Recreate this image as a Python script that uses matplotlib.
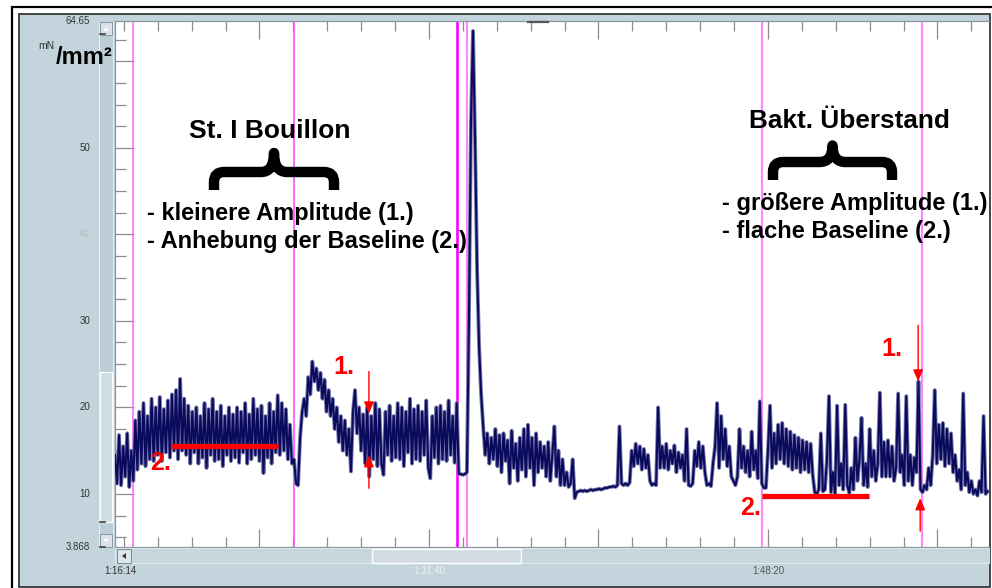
import numpy as np
import matplotlib
matplotlib.use("Agg")
import matplotlib.pyplot as plt
from matplotlib.patches import Rectangle, PathPatch, Polygon
from matplotlib.path import Path
from matplotlib.ticker import MultipleLocator

plt.rcParams['font.family'] = ['Liberation Sans', 'DejaVu Sans']

W, H = 992, 588          # canvas in px

# time axis in seconds of the recording clock
T_START = 4574           # 1:16:14
T_END = 7152
STEP = 6                 # seconds between samples

# force trace (mN/mm2), every ~2 px
seg_bouillon = [
    14.5, 11.2, 16.8, 11.0, 15.5, 12.0, 17.0, 10.8, 15.0, 11.5,
    18.5, 12.8, 19.5, 13.5, 20.5, 13.2, 19.0, 14.0, 21.0, 13.8,
    20.0, 14.5, 21.2, 13.8, 19.8, 14.8, 20.8, 14.2, 21.5, 15.0,
    22.0, 14.0, 23.3, 15.0, 21.0, 14.5, 20.2, 13.5, 19.5, 14.8,
    20.0, 13.5, 19.0, 14.2, 20.5, 13.0, 19.8, 14.5, 21.0, 13.8,
    19.5, 14.0, 20.2, 13.2, 19.0, 14.5, 20.0, 13.8, 19.2, 14.2,
    20.0, 13.6, 19.5, 14.8, 20.5, 13.5, 19.2, 14.0, 21.0, 14.5,
    19.8, 13.8, 20.2, 12.4, 19.0, 14.2, 20.5, 13.5, 19.5, 14.8,
    21.4, 14.5, 20.5, 15.0, 19.8, 14.0, 18.0, 13.5, 14.0, 11.2,
    11.0, 16.5, 19.5, 21.0, 19.0, 23.5, 21.5, 25.3, 23.0, 24.5,
    22.0, 24.0, 21.0, 23.2, 19.5, 22.0, 19.0, 21.0, 17.5, 20.0,
    16.0, 19.0, 15.0, 18.5, 14.5, 17.5, 12.6, 19.5, 22.0, 17.0,
    20.0, 15.0, 19.2, 13.5, 20.0, 12.0, 19.0, 14.0, 20.5, 13.2,
    19.8, 13.5, 12.2, 19.5, 14.5, 20.2, 13.8, 19.0, 14.2, 20.5,
    14.0, 20.0, 13.2, 19.5, 14.8, 21.0, 13.5, 19.8, 14.0, 20.2,
    13.8, 19.5, 14.5, 20.8, 13.0, 11.8, 19.0, 14.2, 20.0, 13.5,
    20.2, 14.0, 19.5, 13.8, 20.8, 14.5, 19.0, 13.6, 20.5, 12.3,
]
seg_peak = [12.3, 12.2, 12.3, 12.5, 30.0, 53.0, 63.5, 51.0, 36.0, 27.0]
seg_recovery = [
    21.5, 17.8, 14.5, 17.0, 13.5, 16.5, 14.0, 17.5, 13.2, 16.8,
    12.5, 17.0, 13.8, 16.2, 11.2, 17.3, 13.0, 15.8, 11.5, 16.5,
    12.8, 17.5, 12.0, 18.0, 13.0, 16.5, 11.0, 17.0, 12.5, 16.0,
    13.0, 15.5, 12.0, 16.0, 11.5, 14.5, 17.8, 12.0, 15.0, 11.0,
    14.0, 11.0, 12.5, 10.8, 11.2, 14.0, 9.5, 10.2, 10.3, 10.4,
]
seg_bakt = [
    10.3, 10.4, 10.3, 10.4, 10.5, 10.4, 10.5, 10.5, 10.6, 10.5,
    10.6, 10.7, 10.7, 10.8, 10.8, 10.9, 10.8, 11.0, 17.8, 11.2,
    11.0, 11.2, 11.0, 11.3, 15.0, 13.2, 15.8, 13.5, 15.5, 12.8,
    15.2, 13.0, 14.5, 11.5, 11.0, 11.2, 11.0, 20.0, 13.0, 15.5,
    13.0, 15.8, 12.8, 15.0, 13.5, 15.6, 12.5, 14.8, 13.0, 14.5,
    11.5, 17.5, 11.0, 10.9, 11.2, 15.0, 13.2, 16.0, 13.0, 15.5,
    12.5, 11.0, 11.2, 10.9, 13.5, 15.5, 20.5, 13.0, 19.0, 14.0,
    17.5, 13.2, 15.5, 12.0, 11.5, 11.0, 12.0, 17.5, 13.0, 15.5,
    12.5, 15.0, 12.0, 17.2, 12.8, 15.0, 11.8, 20.7, 11.2, 10.7,
    10.7, 15.0, 20.2, 13.0, 17.0, 13.5, 18.0, 14.0, 18.2, 13.5,
    17.5, 13.2, 17.2, 12.8, 16.8, 13.0, 16.5, 12.5, 16.2, 12.8,
    16.0, 12.5, 15.8, 12.2, 10.2, 10.0, 10.5, 17.0, 10.3, 10.5,
    14.0, 21.3, 10.2, 12.5, 10.0, 20.2, 11.0, 13.5, 10.5, 20.3,
    11.0, 10.1, 13.0, 10.5, 16.5, 11.5, 14.0, 18.8, 11.0, 13.5,
    10.8, 17.5, 12.0, 15.0, 11.5, 13.5, 21.7, 12.0, 16.0, 12.0,
    16.2, 12.0, 15.5, 11.5, 13.0, 21.6, 12.5, 14.5, 11.0, 21.3,
    11.5, 14.5, 11.0, 14.2, 12.5, 23.0, 10.5, 10.2, 11.0, 10.5,
    13.0, 11.0, 14.5, 22.0, 13.5, 18.0, 14.0, 18.2, 13.2, 17.5,
    13.5, 17.0, 12.5, 14.5, 11.5, 12.8, 10.5, 21.6, 11.0, 12.5,
    10.2, 11.5, 10.0, 10.5, 9.8, 11.5, 10.2, 19.0, 10.0, 10.3,
]

# event markers (magenta cursors)
marker_times = [4627, 5102, 5583, 5612, 6483, 6955]
marker_colors = ['#ff66ff', '#ff44ff', '#ff00ff', '#ff88ff', '#ff88ff', '#ff88ff']
marker_widths = [1.1, 1.1, 1.9, 1.5, 1.5, 1.5]

y_min, y_max = 3.868, 64.65
y_label_vals = [64.65, 60, 50, 40, 30, 20, 10, 3.868]
y_label_txt = ['64.65', '60', '50', '40', '30', '20', '10', '3.868']
time_label_vals = [4574, 5500, 6500]
time_label_txt = ['1:16:14', '1:31:40', '1:48:20']

# red annotations: baseline bars (t0, t1, level), arrows (t, tail, tip), labels
baseline_bars = [(4739, 5055, 15.5), (6483, 6798, 9.73)]
amp_arrows = [(5323, 24.15, 19.3), (5323, 10.66, 14.46), (6943, 29.5, 23.0), (6949, 5.7, 9.5)]
red_labels = [(4707, 12.73, '2.'), (5250, 23.9, '1.'), (6866, 25.9, '1.'), (6450, 7.54, '2.')]

trace = np.array(seg_bouillon + seg_peak + seg_recovery + seg_bakt)
t = T_START + STEP * np.arange(len(trace))


def fx(x):
    return x / W


def fy(y):
    return 1 - y / H


fig = plt.figure(figsize=(W / 100, H / 100), dpi=100)
fig.patch.set_facecolor('white')


def box(x0, y0, x1, y1, **kw):
    r = Rectangle((fx(x0), fy(y1)), (x1 - x0) / W, (y1 - y0) / H,
                  transform=fig.transFigure, **kw)
    fig.add_artist(r)
    return r


def tri(pts, **kw):
    p = Polygon([(fx(a), fy(b)) for a, b in pts], closed=True,
                transform=fig.transFigure, **kw)
    fig.add_artist(p)


def brace(xl, xr, yt, yh, yb, r=10, lw=7.5):
    cx = (xl + xr) / 2
    pts = [(xl, yb), (xl, yh + r), (xl, yh), (xl + r, yh), (cx - 13, yh),
           (cx, yh), (cx, yt), (cx, yh), (cx + 13, yh), (xr - r, yh),
           (xr, yh), (xr, yh + r), (xr, yb)]
    codes = [Path.MOVETO, Path.LINETO, Path.CURVE3, Path.CURVE3, Path.LINETO,
             Path.CURVE3, Path.CURVE3, Path.CURVE3, Path.CURVE3, Path.LINETO,
             Path.CURVE3, Path.CURVE3, Path.LINETO]
    path = Path([(fx(a), fy(b)) for a, b in pts], codes)
    pp = PathPatch(path, fc='none', ec='black', lw=lw, capstyle='butt',
                   joinstyle='round', transform=fig.transFigure, zorder=6)
    fig.add_artist(pp)


# window frame / grey panel
panel = '#c4d4dc'
box(12, 7, 1000, 600, fc='white', ec='black', lw=1.6, zorder=-3)
box(19, 14, 989.5, 587, fc=panel, ec='#2a2a2a', lw=1.2, zorder=-2)

# vertical scrollbar
box(99, 22, 113, 547, fc='#bccdd5', ec='#e6edf0', lw=0.8)
box(100, 372, 112, 522, fc='#cfdce2', ec='white', lw=0.9)
box(100, 22, 112, 35, fc='#d9e3e8', ec='#8a98a0', lw=0.7)
box(100, 534, 112, 547, fc='#d9e3e8', ec='#8a98a0', lw=0.7)
tri([(103.5, 31), (108.5, 31), (106, 27)], fc='white', ec='none')
tri([(103.5, 539), (108.5, 539), (106, 543)], fc='white', ec='none')
for yy in (34, 522, 547):
    fig.add_artist(plt.Line2D([fx(100), fx(105)], [fy(yy), fy(yy)], color='#444444',
                              lw=1.2, transform=fig.transFigure))

# horizontal scrollbar
box(115, 548, 989, 563, fc='#c8d6dd', ec='#e6edf0', lw=0.6)
box(372, 549, 521, 563, fc='#d0dce2', ec='white', lw=1.0)
box(117, 549, 131, 563, fc='#dde6ea', ec='#7a8890', lw=0.7)
tri([(126, 553), (126, 559), (122, 556)], fc='#333333', ec='none')

# plot area
ax = fig.add_axes([fx(115), fy(547), 874 / W, 526 / H])
ax.set_facecolor('white')
ax.set_xlim(T_START, T_END)
ax.set_ylim(y_min, y_max)

ax.set_xticks(np.arange(5000, 7001, 500))
ax.xaxis.set_minor_locator(MultipleLocator(100))
ax.set_yticks(np.arange(10, 61, 10))
ax.yaxis.set_minor_locator(MultipleLocator(2.5))
ax.tick_params(which='both', direction='in', top=True, right=False,
               labelbottom=False, labelleft=False, color='#8c8c8c', width=0.9)
ax.tick_params(axis='x', which='major', length=13)
ax.tick_params(axis='x', which='minor', length=7)
ax.tick_params(axis='y', which='major', length=13.5)
ax.tick_params(axis='y', which='minor', length=8)
for side, sp in ax.spines.items():
    sp.set_color('#8898a0')
    sp.set_linewidth(0.9)
ax.spines['right'].set_visible(False)

for tm, c, w in zip(marker_times, marker_colors, marker_widths):
    ax.axvline(tm, color=c, lw=w, zorder=2)

ax.plot(t, trace, color='#7c7cb0', lw=2.8, zorder=3)
ax.plot(t, trace, color='#0b0b5e', lw=1.5, zorder=4)

# small cursor mark on top edge
ax.plot([5792, 5851], [y_max - 0.15, y_max - 0.15], color='#555555', lw=1.6,
        clip_on=False, zorder=5)

# red annotations
for t0, t1, lev in baseline_bars:
    ax.plot([t0, t1], [lev, lev], color='#ff0000', lw=3.8, solid_capstyle='butt', zorder=6)
for tx, tail, tip in amp_arrows:
    ax.annotate('', xy=(tx, tip), xytext=(tx, tail),
                arrowprops=dict(arrowstyle='-|>,head_length=0.7,head_width=0.3',
                                color='#ff0000', lw=1.0, shrinkA=0, shrinkB=0),
                zorder=6)
for tx, ty, s in red_labels:
    ax.text(tx, ty, s, color='#ff0000', fontsize=18, fontweight='bold',
            ha='center', va='baseline', zorder=7)

# axis labels (screen-style)
ytr = ax.get_yaxis_transform()
for v, s in zip(y_label_vals, y_label_txt):
    col = '#b4bec3' if s in ('40', '60') else '#333333'
    ax.text(-25 / 874, v, s, transform=ytr, ha='right', va='center',
            fontsize=7, color=col, clip_on=False)

xtr = ax.get_xaxis_transform()
time_cols = ['#333333', '#eef3f5', '#555555']
time_offsets = [15, 0, 0]
for tv, s, c, o in zip(time_label_vals, time_label_txt, time_cols, time_offsets):
    ax.text(tv + o, -24 / 526, s, transform=xtr, ha='center', va='center',
            fontsize=7, color=c, clip_on=False)

fig.text(fx(46), fy(46), 'mN', fontsize=7.5, color='#333333', ha='center', va='center')
fig.text(fx(56), fy(64), '/mm²', fontsize=17, fontweight='bold', color='black',
         ha='left', va='baseline')

# text annotations
fig.text(fx(270), fy(138), 'St. I Bouillon', fontsize=19, fontweight='bold',
         ha='center', va='baseline', zorder=6)
fig.text(fx(147), fy(220), '- kleinere Amplitude (1.)', fontsize=17, fontweight='bold',
         ha='left', va='baseline', zorder=6)
fig.text(fx(147), fy(248), '- Anhebung der Baseline (2.)', fontsize=17, fontweight='bold',
         ha='left', va='baseline', zorder=6)
fig.text(fx(849), fy(128), 'Bakt. Überstand', fontsize=18.8, fontweight='bold',
         ha='center', va='baseline', zorder=6)
fig.text(fx(722), fy(210), '- größere Amplitude (1.)', fontsize=17, fontweight='bold',
         ha='left', va='baseline', zorder=6)
fig.text(fx(722), fy(238), '- flache Baseline (2.)', fontsize=17, fontweight='bold',
         ha='left', va='baseline', zorder=6)

brace(214, 334, 153, 172, 190)
brace(773, 892, 145.5, 162, 180)

fig.savefig('out.png', dpi=100)
